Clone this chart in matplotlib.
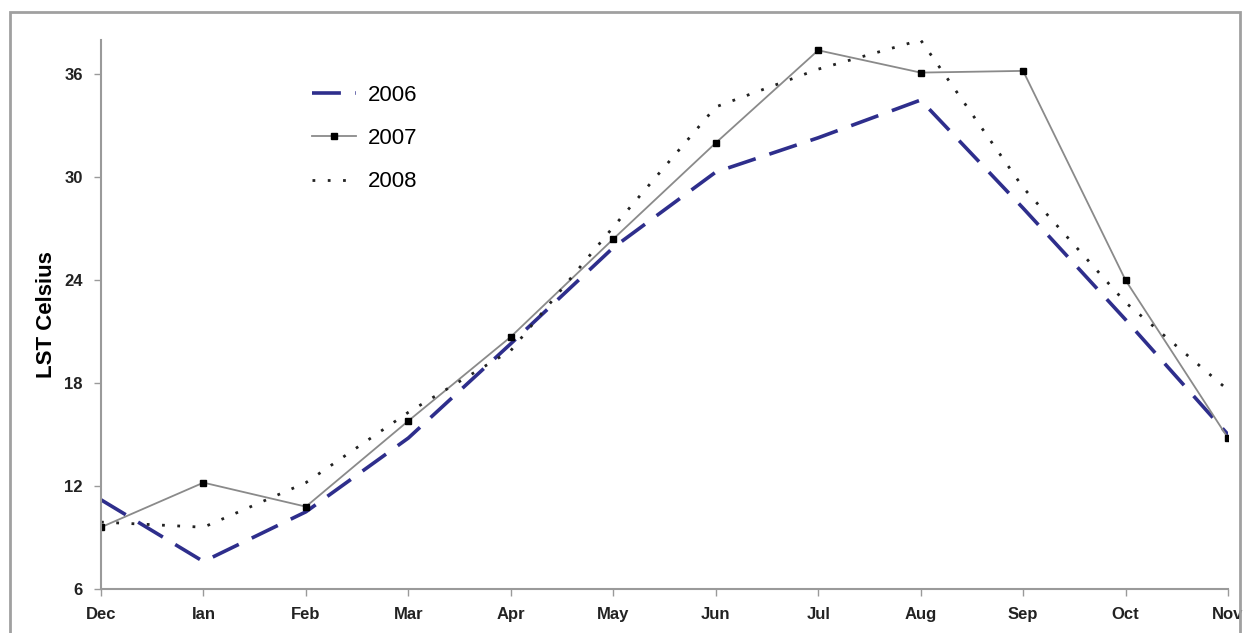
import matplotlib.pyplot as plt
from matplotlib.patches import Rectangle

months = ["Dec", "Ian", "Feb", "Mar", "Apr", "May", "Jun", "Jul", "Aug", "Sep", "Oct", "Nov"]
lst_2006 = [11.2, 7.6, 10.5, 14.8, 20.3, 25.9, 30.3, 32.3, 34.5, 28.2, 21.7, 15.0]
lst_2007 = [9.6, 12.2, 10.8, 15.8, 20.7, 26.4, 32.0, 37.4, 36.1, 36.2, 24.0, 14.8]
lst_2008 = [9.9, 9.6, 12.2, 16.3, 19.9, 27.1, 34.1, 36.3, 38.0, 29.4, 22.7, 17.6]
yticks = [6, 12, 18, 24, 30, 36]

plt.rcParams['font.family'] = ['Liberation Sans', 'DejaVu Sans']

fig = plt.figure(figsize=(12.5, 6.33), dpi=100)
ax = fig.add_axes([101 / 1250, 44 / 633, 1127 / 1250, 549 / 633])

x = range(len(months))
ax.plot(x, lst_2006, color='#2e2e8c', lw=2.6, dashes=(8, 4), label='2006')
ax.plot(x, lst_2007, color='#8a8a8a', lw=1.3, marker='s', ms=5,
        mfc='black', mec='black', label='2007')
ax.plot(x, lst_2008, color='#222222', lw=2.0, dashes=(1, 4.5), label='2008')

ax.set_xlim(0, 11)
ax.set_ylim(6, 38)
ax.set_xticks(list(x))
ax.set_xticklabels(months, fontsize=12, fontweight='bold', color='#222222')
ax.set_yticks(yticks)
ax.set_yticklabels([str(v) for v in yticks], fontsize=12, fontweight='bold', color='#222222')
ax.set_ylabel("LST Celsius", fontsize=16, fontweight='bold', labelpad=5)

for s in ['top', 'right']:
    ax.spines[s].set_visible(False)
for s in ['left', 'bottom']:
    ax.spines[s].set_color('#9a9a9a')
    ax.spines[s].set_linewidth(1.5)
ax.tick_params(direction='out', length=5, width=1, color='#9a9a9a', pad=8)

leg = ax.legend(loc='upper left', bbox_to_anchor=(292 / 1250, 1 - 65 / 633),
                bbox_transform=fig.transFigure, frameon=False, fontsize=16,
                labelspacing=1.0, handlelength=2.0, handletextpad=0.5)

# outer frame around the whole chart
fig.patches.append(Rectangle((10 / 1250, -0.02), 1230 / 1250, 1 - 12 / 633 + 0.02,
                             transform=fig.transFigure, fill=False,
                             edgecolor='#a0a0a0', lw=2))

fig.savefig("out.png", dpi=100)
